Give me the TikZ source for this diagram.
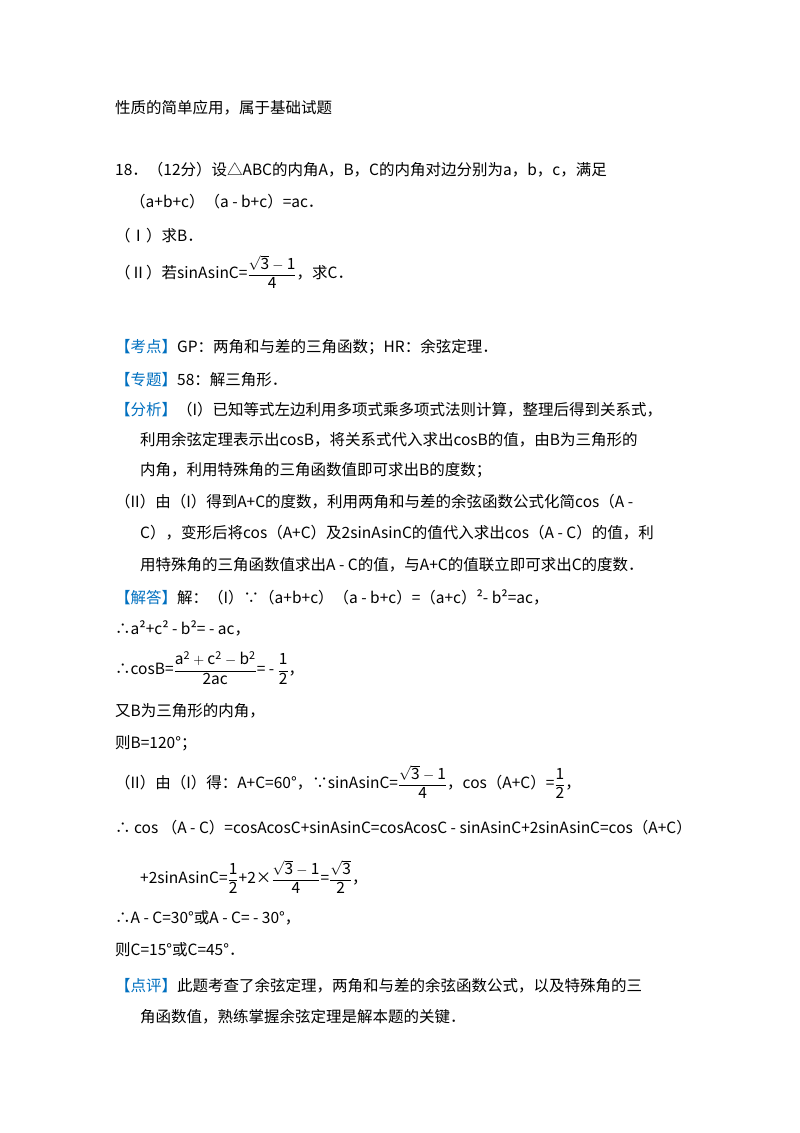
\documentclass[tikz,border=0pt]{standalone}
\usepackage{amsmath}
\usepackage{fontspec}
\setmainfont{Noto Sans CJK SC}
\definecolor{kblue}{RGB}{0,112,192}
\begin{document}
\begin{tikzpicture}[x=1pt,y=-1pt,
  ln/.style={anchor=west,inner sep=0pt,font=\fontsize{15.5}{18}\selectfont}]
\useasboundingbox (0,0) rectangle (800,1133);
\fill[white] (0,0) rectangle (800,1133);
\newcommand\fr[2]{$\dfrac{\mathrm{#1}}{\mathrm{#2}}$}
\newcommand\kb[1]{\textcolor{kblue}{【#1】}}
\node[ln] (l1) at (115,108) {性质的简单应用，属于基础试题};
\node[ln] (l2) at (115,170) {18．（12分）设△ABC的内角A，B，C的内角对边分别为a，b，c，满足};
\node[ln] (l3) at (130,202) {（a+b+c）（a - b+c）=ac．};
\node[ln] (l4) at (115,236) {（Ⅰ）求B．};
\node[ln] (l5) at (115,272) {（Ⅱ）若sinAsinC=\fr{\sqrt{3}-1}{4}，求C．};
\node[ln] (l6) at (115,347) {\kb{考点}GP：两角和与差的三角函数；HR：余弦定理．};
\node[ln] (l7) at (115,380) {\kb{专题}58：解三角形．};
\node[ln] (l8) at (115,410) {\kb{分析}（I）已知等式左边利用多项式乘多项式法则计算，整理后得到关系式，};
\node[ln] (l9) at (140,440) {利用余弦定理表示出cosB，将关系式代入求出cosB的值，由B为三角形的};
\node[ln] (l10) at (140,470) {内角，利用特殊角的三角函数值即可求出B的度数；};
\node[ln] (l11) at (115,502) {（II）由（I）得到A+C的度数，利用两角和与差的余弦函数公式化简cos（A -};
\node[ln] (l12) at (140,533) {C），变形后将cos（A+C）及2sinAsinC的值代入求出cos（A - C）的值，利};
\node[ln] (l13) at (140,565) {用特殊角的三角函数值求出A - C的值，与A+C的值联立即可求出C的度数．};
\node[ln] (l14) at (115,597) {\kb{解答}解：（I）∵（a+b+c）（a - b+c）=（a+c）²- b²=ac，};
\node[ln] (l15) at (115,628) {∴a²+c² - b²= - ac，};
\node[ln] (l16) at (115,668) {∴cosB=\fr{a^2+c^2-b^2}{2ac}= - \fr{1}{2}，};
\node[ln] (l17) at (115,711) {又B为三角形的内角，};
\node[ln] (l18) at (115,743) {则B=120°；};
\node[ln] (l19) at (115,782) {（II）由（I）得：A+C=60°，∵sinAsinC=\fr{\sqrt{3}-1}{4}，cos（A+C）=\fr{1}{2}，};
\node[ln] (l20) at (115,828) {∴ cos （A - C）=cosAcosC+sinAsinC=cosAcosC - sinAsinC+2sinAsinC=cos（A+C）};
\node[ln] (l21) at (140,877) {+2sinAsinC=\fr{1}{2}+2×\fr{\sqrt{3}-1}{4}=\fr{\sqrt{3}}{2}，};
\node[ln] (l22) at (115,918) {∴A - C=30°或A - C= - 30°，};
\node[ln] (l23) at (115,950) {则C=15°或C=45°．};
\node[ln] (l24) at (115,986) {\kb{点评}此题考查了余弦定理，两角和与差的余弦函数公式，以及特殊角的三};
\node[ln] (l25) at (140,1017) {角函数值，熟练掌握余弦定理是解本题的关键．};
\end{tikzpicture}
\end{document}
